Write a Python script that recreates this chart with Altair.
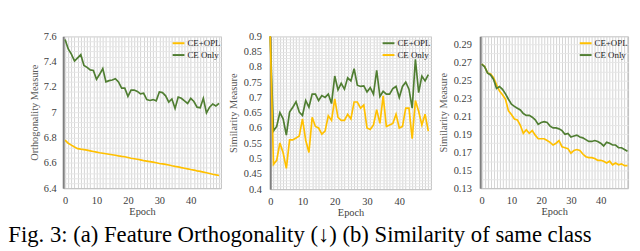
import altair as alt
import pandas as pd

epochs = list(range(50))

# (a) Orthogonality measure
orth_ce_opl = [6.78, 6.755, 6.74, 6.725, 6.712, 6.708, 6.705, 6.70, 6.695, 6.69,
               6.685, 6.68, 6.676, 6.672, 6.668, 6.664, 6.66, 6.655, 6.651, 6.648,
               6.642, 6.636, 6.632, 6.628, 6.623, 6.618, 6.614, 6.61, 6.606, 6.601,
               6.595, 6.592, 6.588, 6.583, 6.577, 6.572, 6.568, 6.562, 6.557, 6.552,
               6.547, 6.543, 6.537, 6.532, 6.527, 6.522, 6.516, 6.51, 6.505, 6.50]
orth_ce_only = [7.575, 7.50, 7.46, 7.405, 7.43, 7.455, 7.37, 7.355, 7.335, 7.33,
                7.26, 7.30, 7.345, 7.24, 7.25, 7.255, 7.265, 7.24, 7.19, 7.19,
                7.125, 7.175, 7.175, 7.165, 7.145, 7.15, 7.10, 7.093, 7.10, 7.09,
                7.16, 7.155, 7.13, 7.08, 7.105, 7.03, 7.12, 7.11, 7.09, 7.07,
                7.11, 7.085, 7.04, 7.035, 7.11, 6.995, 7.04, 7.065, 7.05, 7.07]

# (b) Similarity of same class
sim_ce_opl = [0.9, 0.59, 0.605, 0.65, 0.63, 0.577, 0.652, 0.668, 0.686, 0.652,
              0.641, 0.69, 0.668, 0.711, 0.711, 0.69, 0.706, 0.70, 0.711, 0.68,
              0.77, 0.725, 0.746, 0.727, 0.764, 0.754, 0.794, 0.74, 0.736, 0.738,
              0.718, 0.732, 0.711, 0.789, 0.703, 0.72, 0.711, 0.711, 0.729, 0.736,
              0.70, 0.736, 0.75, 0.727, 0.665, 0.825, 0.716, 0.77, 0.754, 0.775]
sim_ce_only = [0.9, 0.481, 0.494, 0.551, 0.519, 0.468, 0.561, 0.561, 0.567, 0.574,
               0.63, 0.56, 0.52, 0.635, 0.605, 0.60, 0.58, 0.59, 0.64, 0.625,
               0.695, 0.635, 0.625, 0.625, 0.645, 0.63, 0.685, 0.685, 0.665, 0.675,
               0.60, 0.595, 0.61, 0.66, 0.615, 0.705, 0.605, 0.61, 0.615, 0.645,
               0.60, 0.605, 0.665, 0.665, 0.565, 0.69, 0.655, 0.61, 0.645, 0.59]

# (c) Similarity measure
sim3_ce_opl = [0.268, 0.2655, 0.258, 0.257, 0.253, 0.245, 0.238, 0.234, 0.229, 0.216,
               0.212, 0.207, 0.206, 0.200, 0.191, 0.195, 0.191, 0.194, 0.189, 0.185,
               0.185, 0.185, 0.183, 0.181, 0.178, 0.180, 0.183, 0.176, 0.175, 0.174,
               0.169, 0.172, 0.173, 0.172, 0.168, 0.165, 0.164, 0.164, 0.163, 0.161,
               0.161, 0.160, 0.158, 0.160, 0.156, 0.158, 0.156, 0.157, 0.155, 0.155]
sim3_ce_only = [0.268, 0.265, 0.258, 0.256, 0.251, 0.241, 0.243, 0.240, 0.235, 0.229,
                0.2235, 0.221, 0.219, 0.217, 0.213, 0.211, 0.211, 0.209, 0.206, 0.201,
                0.203, 0.204, 0.203, 0.199, 0.197, 0.197, 0.196, 0.194, 0.190, 0.191,
                0.187, 0.188, 0.189, 0.187, 0.186, 0.184, 0.182, 0.182, 0.183, 0.182,
                0.180, 0.177, 0.181, 0.180, 0.178, 0.178, 0.175, 0.175, 0.173, 0.171]

series = ["CE+OPL", "CE Only"]
caption = "Fig. 3: (a) Feature Orthogonality (\u2193) (b) Similarity of same class"

YELLOW = "#FFC000"
GREEN = "#507E32"
FONT = "Liberation Serif"
TXT = "#404040"
SHIFT = 21


def long_df(a, b):
    return pd.DataFrame({
        "epoch": epochs + epochs,
        "value": a + b,
        "series": [series[0]] * len(a) + [series[1]] * len(b),
    })


def panel(df, y_title, ydomain, yvals, major_expr, colors, width, height,
          xdomain, ylabpad, ytitlepad):
    return alt.Chart(df).mark_line(strokeWidth=1.7).encode(
        x=alt.X("epoch:Q",
                scale=alt.Scale(domain=xdomain, nice=False, zero=False),
                axis=alt.Axis(values=epochs, title="Epoch", ticks=False,
                              labelExpr="datum.value % 10 == 0 ? datum.label : ''",
                              labelOverlap=False, labelFlush=False,
                              labelPadding=8, titlePadding=0,
                              labelFont=FONT, titleFont=FONT,
                              labelFontSize=10.5, titleFontSize=10.5,
                              labelColor=TXT, titleColor=TXT,
                              titleFontWeight="normal",
                              gridColor="#d4d4d4", domainColor="#bfbfbf",
                              domainWidth=1)),
        y=alt.Y("value:Q",
                scale=alt.Scale(domain=ydomain, nice=False, zero=False),
                axis=alt.Axis(values=yvals, title=y_title, ticks=False,
                              labelExpr=major_expr, labelOverlap=False,
                              labelFlush=False, labelPadding=ylabpad,
                              titlePadding=ytitlepad,
                              labelFont=FONT, titleFont=FONT,
                              labelFontSize=10.5, titleFontSize=10.5,
                              labelColor=TXT, titleColor="#595959",
                              titleFontWeight="normal",
                              gridColor="#e6e6e6",
                              domainColor="#7f7f7f", domainWidth=2)),
        color=alt.Color("series:N",
                        scale=alt.Scale(domain=series, range=colors),
                        sort=series,
                        legend=alt.Legend(title=None, orient="top-right",
                                          offset=0, symbolType="stroke",
                                          symbolSize=144, symbolStrokeWidth=2,
                                          labelFont=FONT, labelFontSize=9,
                                          labelColor="#222222", rowPadding=-3,
                                          padding=0, labelOffset=2)),
    ).properties(width=width, height=height)


y1 = [round(6.4 + 0.04 * i, 2) for i in range(31)]
y2 = [round(0.4 + 0.01 * i, 2) for i in range(51)]
y3 = [round(0.13 + 0.01 * i, 2) for i in range(17)]

p1 = panel(long_df(orth_ce_opl, orth_ce_only), "Orthogonality  Measure",
           [6.4, 7.6], y1,
           "abs(datum.value*5 - round(datum.value*5)) < 0.001 ? format(datum.value, '~g') : ''",
           [YELLOW, GREEN], 160, 154, [-0.6, 49.6], 7, 4)
p2 = panel(long_df(sim_ce_opl, sim_ce_only), "Similarity  Measure",
           [0.4, 0.9], y2,
           "abs(datum.value*20 - round(datum.value*20)) < 0.001 ? format(datum.value, '~g') : ''",
           [GREEN, YELLOW], 163, 155, [0, 49.8], 9, 5)
p3 = panel(long_df(sim3_ce_opl, sim3_ce_only), "Similarity  Measure",
           [0.13, 0.299], y3,
           "abs((datum.value*100-1)/2 - round((datum.value*100-1)/2)) < 0.01 ? format(datum.value, '~g') : ''",
           [YELLOW, GREEN], 150, 154, [-0.5, 49.2], 9, 5)

chart = alt.hconcat(p1, p2, p3, spacing=5).resolve_scale(
    x="independent", y="independent", color="independent"
).resolve_legend(color="independent").properties(
    padding={"left": 0, "top": 21, "right": 0, "bottom": 0},
    title=alt.TitleParams(caption, orient="bottom", anchor="start", font=FONT,
                          fontSize=23, fontWeight="normal", color="black",
                          dx=-SHIFT, offset=6),
).configure_view(stroke="#bfbfbf", strokeWidth=1)

chart.save("out.html", embed_options={"renderer": "svg", "actions": False})
